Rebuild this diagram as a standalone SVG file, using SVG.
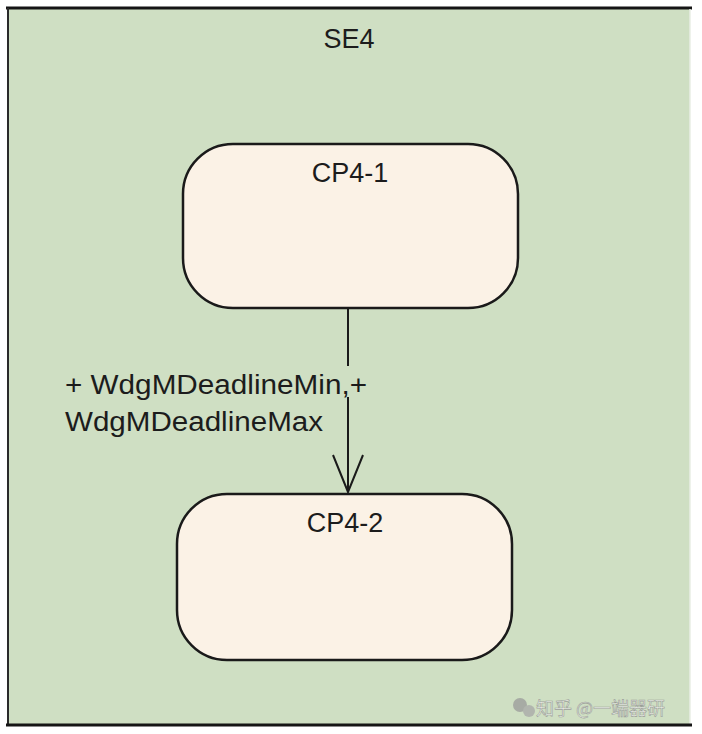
<svg xmlns="http://www.w3.org/2000/svg" width="702" height="734" viewBox="0 0 702 734">
<style>
.lbl{font-family:"Liberation Sans",Arial,sans-serif;fill:#1c1c1c;}
.node{fill:#fbf2e6;stroke:#1a1a1a;stroke-width:2.5;}
.edge{stroke:#1a1a1a;stroke-width:2;fill:none;}
</style>
<rect x="0" y="0" width="702" height="734" fill="#ffffff"/>
<g id="SE4">
<rect x="8" y="8" width="682" height="717" fill="#cfdfc3"/>
<line x1="6" y1="8" x2="692" y2="8" stroke="#151515" stroke-width="3"/>
<line x1="8" y1="8" x2="8" y2="726" stroke="#2a2a2a" stroke-width="2"/>
<line x1="690" y1="9" x2="690" y2="724" stroke="#e8eee4" stroke-width="1.5"/>
<line x1="6" y1="725" x2="692" y2="725" stroke="#151515" stroke-width="3"/>
<text class="lbl" x="349" y="48" font-size="27" text-anchor="middle">SE4</text>
</g>
<g id="CP4-1">
<rect class="node" x="183" y="144" width="335" height="164" rx="50" ry="50"/>
<text class="lbl" x="350" y="182" font-size="27" text-anchor="middle">CP4-1</text>
</g>
<g id="CP4-2">
<rect class="node" x="177" y="494" width="335" height="166" rx="50" ry="50"/>
<text class="lbl" x="345" y="532" font-size="27" text-anchor="middle">CP4-2</text>
</g>
<g id="connectors">
<line class="edge" x1="348" y1="309" x2="348" y2="366"/>
<line class="edge" x1="348" y1="397" x2="348" y2="492"/>
<polyline class="edge" points="333,455 348,492 363,455"/>
<text class="lbl" x="65" y="394" font-size="27" textLength="302" lengthAdjust="spacingAndGlyphs">+ WdgMDeadlineMin,+</text>
<text class="lbl" x="65" y="431" font-size="27" textLength="258" lengthAdjust="spacingAndGlyphs">WdgMDeadlineMax</text>
</g>
<g id="watermark" opacity="0.75">
<circle cx="520" cy="705" r="7" fill="#9a9a9a"/>
<circle cx="529" cy="711" r="6" fill="#a8a8a8"/>
<text x="536" y="715" font-size="18" fill="#f4f4f4" stroke="#8a8a8a" stroke-width="0.6" font-family="'Noto Sans CJK SC',sans-serif">知乎 @一端器研</text>
</g>
</svg>
